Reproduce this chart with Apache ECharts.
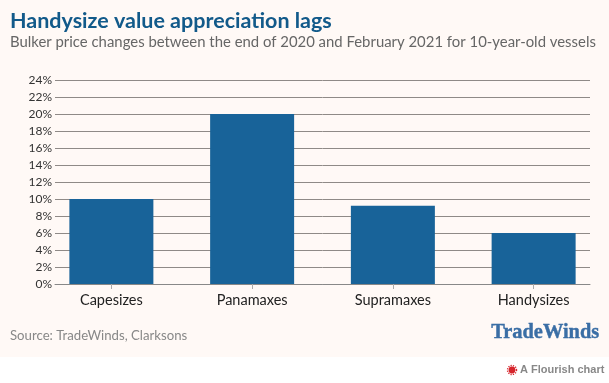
<!DOCTYPE html>
<html>
<head>
<meta charset="utf-8">
<script src="https://cdn.jsdelivr.net/npm/echarts@6/dist/echarts.min.js"></script>
<style>
html, body { margin: 0; padding: 0; background: #fff; }
#main { width: 609px; height: 383px; }
</style>
</head>
<body>
<div id="main"></div>
<script>
var categories = ['Capesizes', 'Panamaxes', 'Supramaxes', 'Handysizes'];
var priceChange = [10, 20, 9.2, 6];
var axisMax = 24;
var axisStep = 2;

var chart = echarts.init(document.getElementById('main'));
var font = 'Lato, sans-serif';

var option = {
  animation: false,
  backgroundColor: '#ffffff',
  // grid 0 holds the gridlines, grid 1 is wider because the bars are spaced past the lines
  grid: [
    { left: 55, right: 19, top: 80, bottom: 99 },
    { left: 41, right: 5, top: 80, bottom: 99 }
  ],
  graphic: [
    { type: 'rect', z: -10, shape: { x: 0, y: 0, width: 609, height: 357 }, style: { fill: '#fff9f6' } },
    { type: 'text', left: 10, top: 10, style: { text: 'Handysize value appreciation lags', fill: '#125a8a', font: 'bold 21.5px ' + font } },
    { type: 'text', left: 10, top: 35, style: { text: 'Bulker price changes between the end of 2020 and February 2021 for 10-year-old vessels', fill: '#666666', font: '14.9px ' + font } },
    { type: 'text', left: 10, top: 329, style: { text: 'Source: TradeWinds, Clarksons', fill: '#888888', font: '13.2px ' + font } },
    { type: 'text', left: 491, top: 323, style: { text: 'TradeWinds', fill: '#3a6ea5', stroke: '#3a6ea5', lineWidth: 0.4, font: 'bold 20.4px "Liberation Serif", serif' } },
    // flourish logo
    { type: 'circle', shape: { cx: 512, cy: 370, r: 3.4 }, style: { fill: '#d6252c' } },
    { type: 'circle', shape: { cx: 512, cy: 370, r: 4.5 }, style: { fill: 'none', stroke: '#d6252c', lineWidth: 1.4, lineDash: [1.2, 1.2] } },
    { type: 'text', left: 520, top: 364, style: { text: 'A Flourish chart', fill: '#888888', font: 'bold 11px "Liberation Sans", sans-serif' } }
  ],
  xAxis: [
    {
      type: 'category',
      gridIndex: 0,
      data: categories,
      axisLine: { lineStyle: { color: '#888888', width: 1 } },
      axisTick: { show: false },
      axisLabel: { show: false }
    },
    {
      type: 'category',
      gridIndex: 1,
      data: categories,
      axisLine: { show: false },
      axisTick: { show: true, alignWithLabel: true, length: 5, lineStyle: { color: '#aaaaaa' } },
      axisLabel: { color: '#222222', fontFamily: font, fontSize: 14.5, margin: 9 }
    }
  ],
  yAxis: [
    {
      type: 'value',
      gridIndex: 0,
      min: 0,
      max: axisMax,
      interval: axisStep,
      axisLine: { show: false },
      axisTick: { show: false },
      axisLabel: { color: '#333333', fontFamily: font, fontSize: 12, margin: 3, formatter: '{value}%' },
      splitLine: { lineStyle: { color: '#8f8a87', width: 1 } }
    },
    {
      type: 'value',
      gridIndex: 1,
      min: 0,
      max: axisMax,
      interval: axisStep,
      axisLine: { show: false },
      axisTick: { show: false },
      axisLabel: { show: false },
      splitLine: { show: false }
    }
  ],
  series: [
    {
      type: 'bar',
      xAxisIndex: 1,
      yAxisIndex: 1,
      data: priceChange,
      barWidth: 84,
      itemStyle: { color: '#186399' }
    }
  ]
};

chart.setOption(option);
</script>
</body>
</html>
